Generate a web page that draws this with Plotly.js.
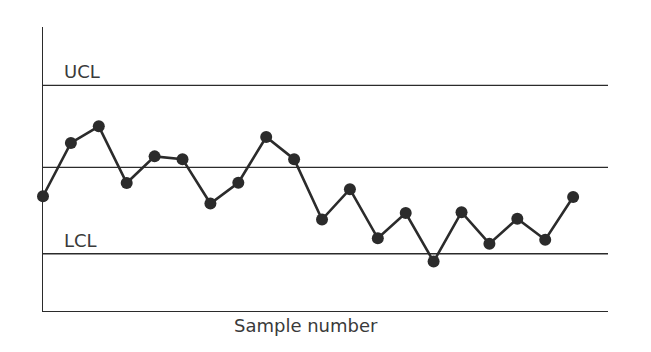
<!DOCTYPE html>
<html><head><meta charset="utf-8">
<script src="https://cdn.plot.ly/plotly-3.0.1.min.js"></script>
<style>html,body{margin:0;padding:0;background:#fff;}#chart{width:651px;height:352px;}</style>
</head><body><div id="chart"></div>
<script>
// Sample numbers and measured values (centre line = 0)
const sampleNumbers = [1,2,3,4,5,6,7,8,9,10,11,12,13,14,15,16,17,18,19,20];
const sampleValues = [-1.03,0.87,1.46,-0.56,0.39,0.29,-1.29,-0.55,1.08,0.29,-1.86,-0.78,-2.53,-1.63,-3.36,-1.60,-2.72,-1.83,-2.58,-1.06];
const centerLine = 0;
const ucl = 2.92;
const lcl = -3.08;
const limitLabels = ["UCL", "LCL"];
const xAxisLabel = "Sample number";

const xMin = 1, xMax = 21.25;
const ink = "#2b2b2b";
const lineX = [xMin, xMax];

const traces = [
  {x: lineX, y: [ucl, ucl], mode: "lines", line: {color: ink, width: 1.3}, hoverinfo: "skip"},
  {x: lineX, y: [centerLine, centerLine], mode: "lines", line: {color: ink, width: 1.3}, hoverinfo: "skip"},
  {x: lineX, y: [lcl, lcl], mode: "lines", line: {color: ink, width: 1.3}, hoverinfo: "skip"},
  {x: sampleNumbers, y: sampleValues, mode: "lines+markers", cliponaxis: false,
   line: {color: ink, width: 2.6}, marker: {color: ink, size: 12}}
];

const font = {family: "DejaVu Sans, sans-serif", size: 18, color: "#3a3a3a"};
const layout = {
  width: 651, height: 352,
  margin: {l: 43, r: 43, t: 27, b: 41},
  paper_bgcolor: "#fff", plot_bgcolor: "#fff",
  showlegend: false,
  xaxis: {range: [xMin, xMax], showgrid: false, zeroline: false, showticklabels: false, ticks: "",
          showline: true, linecolor: ink, linewidth: 1.3},
  yaxis: {range: [-5.12, 5.0], showgrid: false, zeroline: false, showticklabels: false, ticks: "",
          showline: true, linecolor: ink, linewidth: 1.3},
  annotations: [
    {xref: "paper", yref: "y", x: 0.034, y: ucl, xanchor: "left", yanchor: "bottom", yshift: 1,
     text: limitLabels[0], showarrow: false, font: font},
    {xref: "paper", yref: "y", x: 0.034, y: lcl, xanchor: "left", yanchor: "bottom", yshift: 1,
     text: limitLabels[1], showarrow: false, font: font},
    {xref: "paper", yref: "paper", x: 0.4655, y: 0, xanchor: "center", yanchor: "top", yshift: -2,
     text: xAxisLabel, showarrow: false, font: font}
  ]
};
Plotly.newPlot("chart", traces, layout, {staticPlot: true, displayModeBar: false});
</script>
</body></html>
